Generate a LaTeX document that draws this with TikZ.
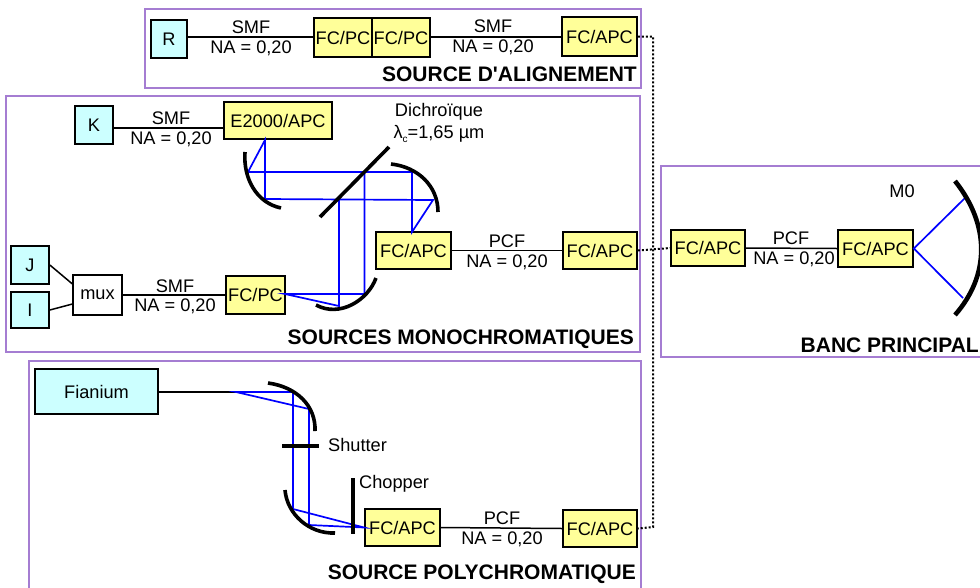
\documentclass[tikz,border=0pt]{standalone}
\usepackage{fontspec}
\setmainfont{Liberation Sans}
\newfontfamily\plainsans{Liberation Sans}
\newcommand{\fsz}{\fontsize{18.2}{20}\selectfont}
\newcommand{\tsz}{\fontsize{21}{23}\selectfont\bfseries}
\definecolor{pv}{RGB}{165,125,210}
\definecolor{yf}{RGB}{255,255,153}
\definecolor{cf}{RGB}{204,255,255}
\definecolor{rayc}{RGB}{0,0,255}
\tikzset{
 panel/.style={draw=pv,line width=2pt,fill=white},
 fibre/.style={draw=black,line width=1.7pt,fill=yf,font=\fsz,inner sep=0pt},
 srcbox/.style={draw=black,line width=1.7pt,fill=cf,font=\fsz,inner sep=0pt},
 muxbox/.style={draw=black,line width=1.1pt,fill=white,font=\fsz,inner sep=0pt},
 link/.style={draw=black,line width=1.5pt},
 dots/.style={draw=black,line width=2pt,dash pattern=on 2pt off 2pt},
 ray/.style={draw=rayc,line width=1.7pt},
 mirror/.style={draw=black,line width=3.6pt},
 lab/.style={font=\fsz,inner sep=0pt},
 ttl/.style={font=\tsz,inner sep=0pt,anchor=east},
}
\begin{document}
\begin{tikzpicture}[x=1pt,y=-1pt]
\useasboundingbox (0,0) rectangle (980,587);
\clip (0,0) rectangle (980,587);
\fill[white] (0,0) rectangle (980,587);
% panels
\draw[panel] (145,9) rectangle (641,88);
\draw[panel] (6,96) rectangle (640,352);
\draw[panel] (29,361) rectangle (641,590);
\draw[panel] (661,166) rectangle (990,357);
% source d'alignement
\node[srcbox,minimum width=36pt,minimum height=38pt] (R) at (169,39) {R};
\node[fibre,minimum width=58pt,minimum height=39pt] (a1) at (343,37.5) {FC/PC};
\node[fibre,minimum width=58pt,minimum height=39pt] (a2) at (401,37.5) {FC/PC};
\node[fibre,minimum width=75pt,minimum height=39pt] (a3) at (599.5,36.5) {FC/APC};
\draw[link] (R.east|-0,37) -- (a1.west|-0,37);
\draw[link] (a2.east|-0,37) -- (a3.west|-0,37);
\node[lab] (t1) at (251,27) {SMF};
\node[lab] (t2) at (251,48) {NA = 0,20};
\node[lab] (t3) at (493,26) {SMF};
\node[lab] (t4) at (493,47) {NA = 0,20};
\node[ttl] (tA) at (637,74) {\plainsans\tsz SOURCE D'ALIGNEMENT};
% mono
\node[srcbox,minimum width=38pt,minimum height=38pt] (K) at (94,125) {K};
\node[fibre,minimum width=108pt,minimum height=37pt] (e) at (278,120.5) {E2000/APC};
\draw[link] (K.east|-0,128) -- (e.west|-0,128);
\node[lab] (t5) at (171,118) {SMF};
\node[lab] (t6) at (171,139) {NA = 0,20};
\node[lab] (t7) at (439,112) {Dichroïque};
\node[lab] (t8) at (439,134) {λ\raisebox{-4pt}{\fontsize{10}{11}\selectfont c}=1,65 µm};
\node[fibre,minimum width=75pt,minimum height=37pt] (m1) at (413.5,250.5) {FC/APC};
\node[fibre,minimum width=74pt,minimum height=37pt] (m2) at (600,250.5) {FC/APC};
\draw[link] (m1.east) -- (m2.west);
\node[lab] (t9) at (507,241) {PCF};
\node[lab] (t10) at (507,262) {NA = 0,20};
\node[srcbox,minimum width=38pt,minimum height=38pt] (J) at (30,265) {J};
\node[srcbox,minimum width=38pt,minimum height=36pt] (I) at (30,310) {I};
\node[muxbox,minimum width=49pt,minimum height=40pt] (mx) at (97.5,295) {\raisebox{-2pt}{mux}};
\node[fibre,minimum width=59pt,minimum height=38pt] (fp) at (255.5,295) {FC/PC};
\draw[link] (J.east) -- (mx.west|-0,284);
\draw[link] (I.east) -- (mx.west|-0,304);
\draw[link] (mx.east) -- (fp.west);
\node[lab] (t11) at (175,286) {SMF};
\node[lab] (t12) at (175,306) {NA = 0,20};
\node[ttl] (tB) at (634,339) {SOURCES MONOCHROMATIQUES};
% mono optics
\coordinate (e0) at (265,140);
\coordinate (ma) at (248,172);
\coordinate (mb) at (265,199);
\coordinate (mc) at (412,172);
\coordinate (md) at (433,200);
\coordinate (f0) at (412,232);
\coordinate (da) at (364.5,172);
\coordinate (db) at (339,199);
\coordinate (me) at (364.5,294);
\coordinate (mf) at (339,306);
\coordinate (g0) at (285,294);
\draw[ray] (e0) -- (ma) -- (mc) -- (f0) -- (md) -- (mb) -- cycle;
\draw[ray] (da) -- (me) -- (g0) -- (mf) -- (db);
\draw[mirror] (245,152) .. controls (243,179) and (257,203) .. (281,208);
\draw[mirror] (391,164) .. controls (418,167) and (438,186) .. (438,212);
\draw[mirror] (376,278) .. controls (368,300) and (340,318) .. (316,305);
\draw[mirror] (320,217) -- (389,147);
% poly
\node[srcbox,minimum width=123pt,minimum height=45pt] (F) at (96.5,391.5) {Fianium};
\coordinate (pa) at (236,392);
\coordinate (pb) at (293,392);
\coordinate (pc) at (309,409);
\coordinate (pd) at (293,509);
\coordinate (pe) at (309,525);
\node[fibre,minimum width=75pt,minimum height=37pt] (p1) at (402.5,527.5) {FC/APC};
\node[fibre,minimum width=74pt,minimum height=37pt] (p2) at (600,528.5) {FC/APC};
\draw[link] (F.east|-pa) -- (pa);
\draw[link] (p1.east) -- (p2.west);
\draw[ray] (pa) -- (pb) -- (pd) -- (p1.west) -- (pe) -- (pc) -- cycle;
\draw[mirror] (268,383) .. controls (297,387) and (316,406) .. (315,431);
\draw[mirror] (285,490) .. controls (287,514) and (309,534) .. (335,533);
\draw[mirror] (282,446) -- (319,446);
\draw[mirror] (353,478) -- (353,534);
\node[lab,anchor=west] (t13) at (328,445) {Shutter};
\node[lab,anchor=west] (t14) at (359,484) {Chopper};
\node[lab] (t15) at (502,518) {PCF};
\node[lab] (t16) at (502,539) {NA = 0,20};
\node[ttl] (tC) at (636,574) {SOURCE POLYCHROMATIQUE};
% banc
\node[fibre,minimum width=74pt,minimum height=36pt] (b1) at (708,248) {FC/APC};
\node[fibre,minimum width=75pt,minimum height=37pt] (b2) at (875.5,248.5) {FC/APC};
\draw[link] (b1.east) -- (b2.west);
\node[lab] (t17) at (791,238) {PCF};
\node[lab] (t18) at (794,259) {NA = 0,20};
\node[lab] (t19) at (902,191) {M0};
\node[ttl] (tD) at (979,345) {BANC PRINCIPAL};
\coordinate (u) at (965,198);
\coordinate (v) at (963,298);
\draw[ray] (u) -- (b2.east) -- (v);
\draw[draw=black,line width=4.6pt] (955,181) .. controls (990,225) and (990,275) .. (955,315);
% dotted links
\draw[dots] (a3.east) -| (653,527) -- (p2.east);
\draw[dots] (m2.east) -- (b1.west);
\end{tikzpicture}
\end{document}
